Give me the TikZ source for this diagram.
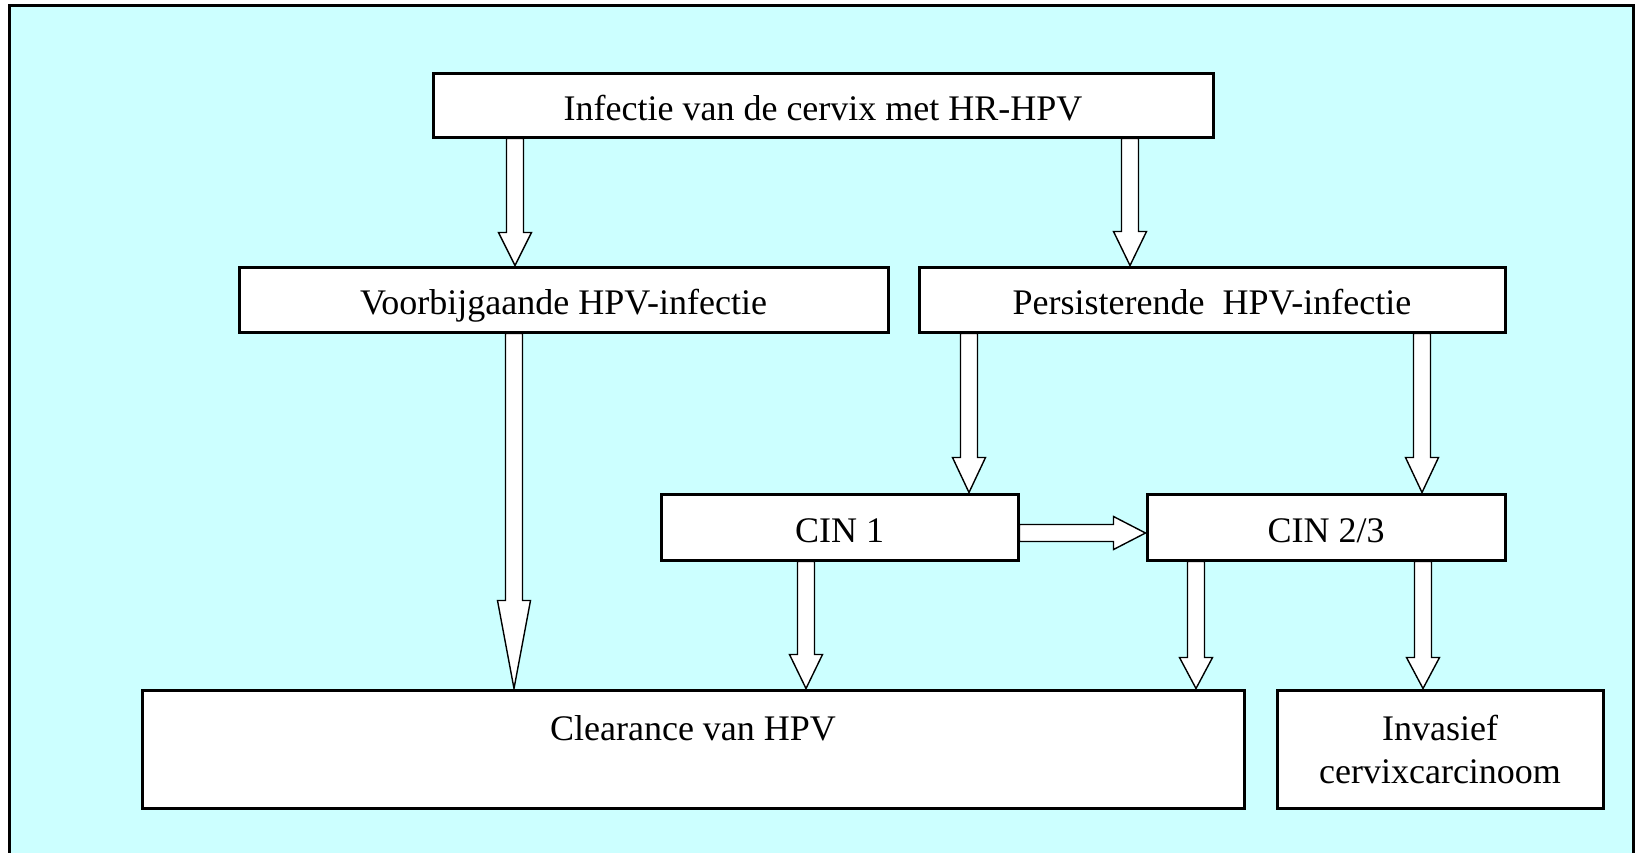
\documentclass[tikz,border=0pt]{standalone}
\usepackage{fontspec}
\setmainfont{Liberation Serif}
\usetikzlibrary{calc,backgrounds}
\definecolor{achtergrond}{RGB}{204,255,255}

\begin{document}
\begin{tikzpicture}[x=1pt, y=-1pt, line join=miter,
  blok/.style={draw=black, line width=3pt, fill=white, inner sep=0pt, align=center,
    font=\fontsize{36}{43}\selectfont},
  regel/.style={blok, text height=38pt, text depth=8pt},
  pijl/.style={draw=black, line width=1.4pt, fill=white,
    to path={($(\tikztostart)!8.5pt!90:(\tikztotarget)$)
      -- ($(\tikztotarget)!#1!(\tikztostart)!8.5pt!-90:(\tikztostart)$)
      -- ($(\tikztotarget)!#1!(\tikztostart)!16.5pt!-90:(\tikztostart)$)
      -- (\tikztotarget)
      -- ($(\tikztotarget)!#1!(\tikztostart)!16.5pt!90:(\tikztostart)$)
      -- ($(\tikztotarget)!#1!(\tikztostart)!8.5pt!90:(\tikztostart)$)
      -- ($(\tikztostart)!8.5pt!-90:(\tikztotarget)$) -- cycle}},
  pijl/.default=33pt]

  %% ════ 方框 ════
  \node[regel, minimum width=780pt, minimum height=64pt]  (infectie) at (823,105)   {Infectie van de cervix met HR-HPV};
  \node[regel, minimum width=649pt, minimum height=65pt]  (voorbij)  at (563.5,299.5) {Voorbijgaande HPV-infectie};
  \node[regel, minimum width=586pt, minimum height=65pt]  (persist)  at (1212,299.5)  {Persisterende~ HPV-infectie};
  \node[regel, minimum width=357pt, minimum height=66pt]  (cin1)     at (839.5,527)   {CIN 1};
  \node[regel, minimum width=358pt, minimum height=66pt]  (cin23)    at (1326,527)    {CIN 2/3};
  \node[blok, minimum width=1102pt, minimum height=118pt] (clear)    at (693,749)     {Clearance van HPV\\\mbox{}};
  \node[blok, minimum width=326pt, minimum height=118pt]  (invasief) at (1440,749)    {Invasief\\cervixcarcinoom};

  %% ════ 背景 + 空心箭头（放在方框下层）════
  \begin{pgfonlayer}{background}
    \draw[line width=3pt, fill=achtergrond] (9,5) rectangle (1633,864);

    \path[pijl]      (515,0 |- infectie.south) to (515,0 |- voorbij.north);
    \path[pijl=34pt] (1130,0 |- infectie.south) to (1130,0 |- persist.north);
    \path[pijl=88pt] (514,0 |- voorbij.south) to (514,0 |- clear.north);
    \path[pijl=35pt] (969,0 |- persist.south) to (969,0 |- cin1.north);
    \path[pijl=35pt] (1422,0 |- persist.south) to (1422,0 |- cin23.north);
    \path[pijl=32pt] (cin1.east |- 0,533) to (cin23.west |- 0,533);
    \path[pijl=34pt] (806,0 |- cin1.south) to (806,0 |- clear.north);
    \path[pijl=31pt] (1196,0 |- cin23.south) to (1196,0 |- clear.north);
    \path[pijl=31pt] (1423,0 |- cin23.south) to (1423,0 |- invasief.north);
  \end{pgfonlayer}

  % 画布固定为参考图大小
  \pgfresetboundingbox
  \path[use as bounding box] (0,0) rectangle (1635,852);
\end{tikzpicture}
\end{document}
